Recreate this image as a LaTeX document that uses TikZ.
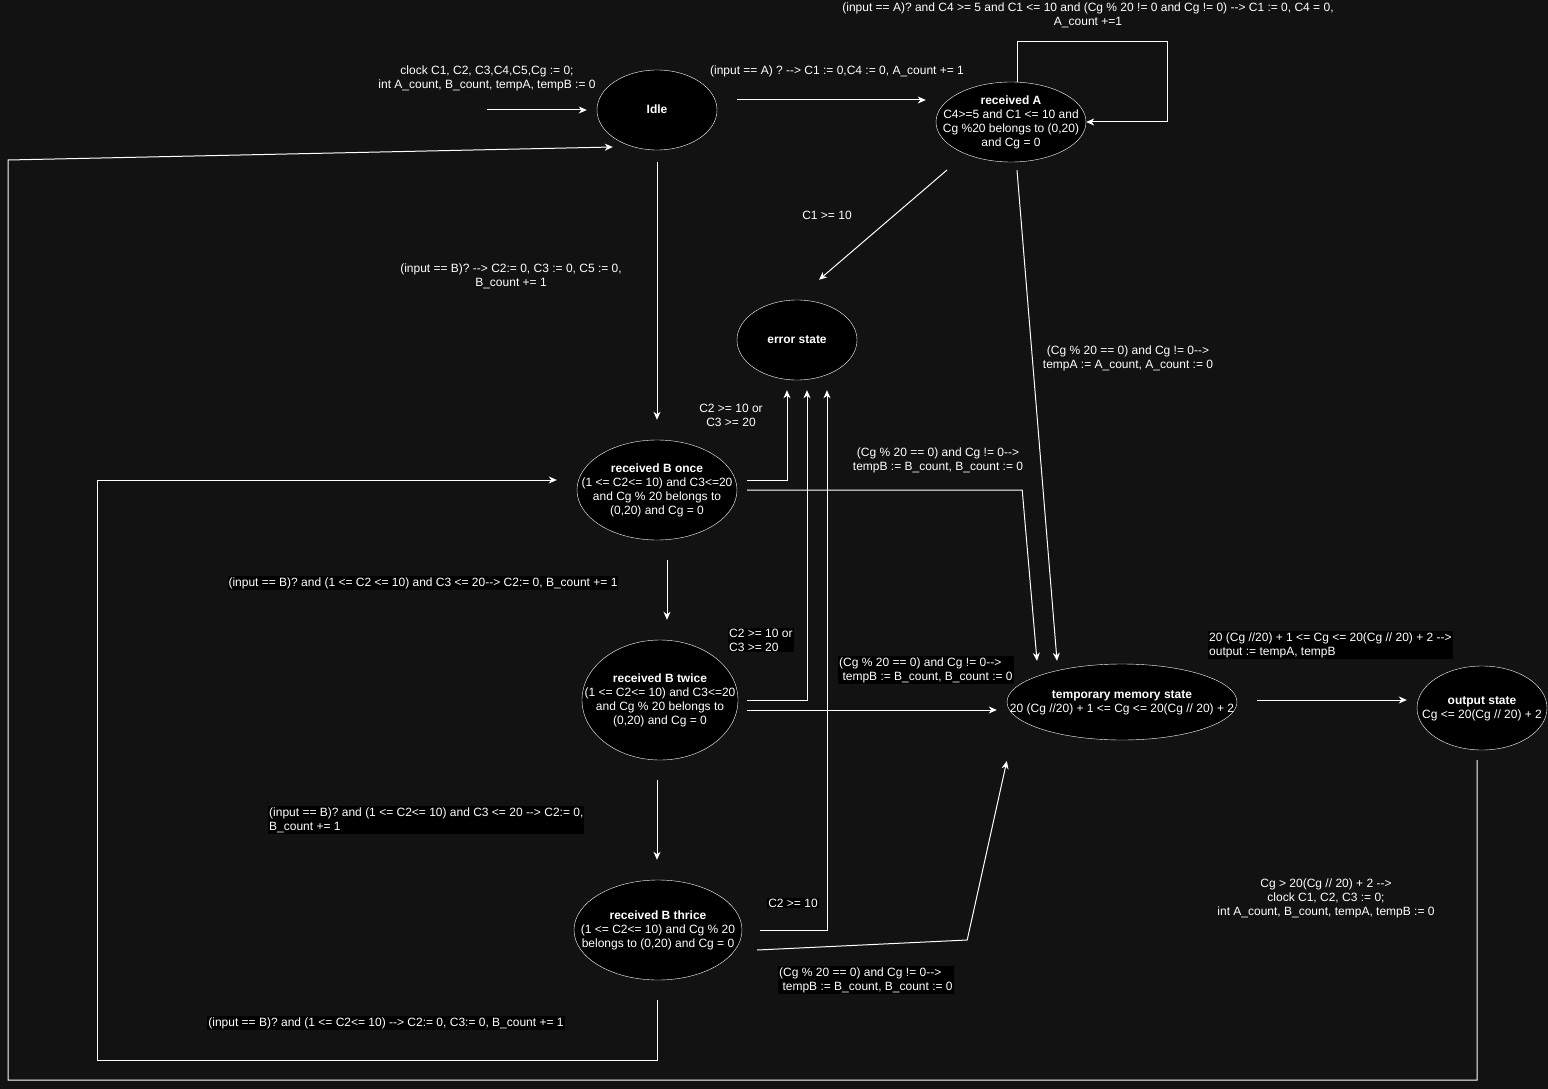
\documentclass[tikz,border=0pt]{standalone}
\usepackage{fontspec}
\setmainfont{Liberation Sans}[Ligatures=TeXOff]
\usetikzlibrary{shapes.geometric,arrows.meta,calc}
\definecolor{bgcol}{HTML}{121212}
% state text that does not widen the ellipse
\newcommand{\statetext}[1]{\smash{\makebox[0pt][c]{\raisebox{-4pt}{\begin{tabular}{@{}c@{}}#1\end{tabular}}}}}
\tikzset{
  state/.style={ellipse,draw=white,fill=black,text=white,inner sep=0pt,font=\fontsize{12}{14}\selectfont},
  edge/.style={draw=white,line width=1pt,-{Stealth[length=8pt,width=7pt,inset=2.5pt]}},
  lbl/.style={text=white,align=center,inner sep=1pt,font=\fontsize{12}{14}\selectfont},
  lblbox/.style={lbl,fill=black},
}
\begin{document}
\begin{tikzpicture}[x=1pt,y=-1pt]
\fill[bgcol] (0,0) rectangle (1548,1089);
\useasboundingbox (0,0) rectangle (1548,1089);
% states
\node[state,minimum width=120pt,minimum height=80pt] (idle) at (657,110) {\statetext{\textbf{Idle}}};
\node[state,minimum width=150pt,minimum height=80pt] (recA) at (1011,122) {\statetext{\textbf{received A}\\C4>=5 and C1 <= 10 and\\Cg \%20 belongs to (0,20)\\and Cg = 0}};
\node[state,minimum width=120pt,minimum height=80pt] (err) at (797,340) {\statetext{\textbf{error state}}};
\node[state,minimum width=160pt,minimum height=100pt] (bOnce) at (657,490) {\statetext{\textbf{received B once}\\(1 <= C2<= 10) and C3<=20\\and Cg \% 20 belongs to\\(0,20) and Cg = 0}};
\node[state,minimum width=156pt,minimum height=120pt] (bTwice) at (660,700) {\statetext{\textbf{received B twice}\\(1 <= C2<= 10) and C3<=20\\and Cg \% 20 belongs to\\(0,20) and Cg = 0}};
\node[state,minimum width=168pt,minimum height=100pt] (bThrice) at (658,930) {\statetext{\textbf{received B thrice}\\(1 <= C2<= 10) and Cg \% 20\\belongs to (0,20) and Cg = 0}};
\node[state,minimum width=230pt,minimum height=76pt] (temp) at (1122,702) {\statetext{\textbf{temporary memory state}\\20 (Cg //20) + 1 <= Cg <= 20(Cg // 20) + 2}};
\node[state,minimum width=130pt,minimum height=84pt] (out) at (1482,708) {\statetext{\textbf{output state}\\Cg <= 20(Cg // 20) + 2}};

% start arrow
\coordinate (start) at (487,110);
\draw[edge] (start) -- ([xshift=-10pt]idle.west);
\node[lbl] (initLbl) at (487,78) {clock C1, C2, C3,C4,C5,Cg := 0;\\int A\_count, B\_count, tempA, tempB := 0};

% idle -> received A
\draw[edge,shorten <=20pt,shorten >=10pt] ([yshift=10pt]idle.east) -- ([yshift=10pt]idle.east -| recA.west);
\node[lbl] (idleALbl) at (837,71) {(input == A) ? --> C1 := 0,C4 := 0, A\_count += 1};

% self loop on received A
\draw[edge] ([xshift=6pt]recA.north) -- ++(0,-40) -- ++(150,0) |- (recA.east);
\node[lbl] (loopALbl) at (1088,15) {(input == A)? and C4 >= 5 and C1 <= 10 and (Cg \% 20 != 0 and Cg != 0) --> C1 := 0, C4 = 0,\\A\_count +=1};

% received A -> error, received A -> temp
\draw[edge] ($(recA.center)+(-64,48)$) -- ($(err.north)+(22,-20)$);
\node[lbl] (errALbl) at (827,215) {C1 >= 10};
\draw[edge] ($(recA.south)+(6,8)$) -- ($(temp.north)+(-65,-3)$);
\node[lbl] (tempALbl) at (1128,358) {(Cg \% 20 == 0) and Cg != 0-->\\tempA := A\_count, A\_count := 0};

% idle -> received B once
\draw[edge,shorten <=12pt,shorten >=20pt] (idle.south) -- (bOnce.north);
\node[lbl] (idleBLbl) at (511,276) {(input == B)? --> C2:= 0, C3 := 0, C5 := 0,\\B\_count += 1};

% B states -> error
\foreach \src/\dx/\dy/\ex in {bOnce/10/-10/-10, bTwice/9/0/10, bThrice/18/0/30}
\draw[edge] ($(\src.east)+(\dx,\dy)$) -| ($(err.south)+(\ex,10)$);
\node[lbl] (errBoLbl) at (731,415) {C2 >= 10 or\\C3 >= 20};
\node[lblbox,anchor=west,align=left] (errBtLbl) at (728,640) {C2 >= 10 or\\C3 >= 20};
\node[lblbox] (errBthLbl) at (793,903) {C2 >= 10};

% B states -> temporary memory
\draw[edge] ($(bOnce.east)+(10,0)$) -- ++(275,0) -- ($(temp.north)+(-85,-3)$);
\node[lbl] (tempBoLbl) at (938,460) {(Cg \% 20 == 0) and Cg != 0-->\\tempB := B\_count, B\_count := 0};
\draw[edge,shorten <=9pt,shorten >=10pt] ([yshift=-10pt]bTwice.east) -- ([yshift=-10pt]bTwice.east -| temp.west);
\node[lblbox,anchor=west,align=left] (tempBtLbl) at (838,670) {(Cg \% 20 == 0) and Cg != 0-->\\\ tempB := B\_count, B\_count := 0};
\draw[edge] ($(bThrice.east)+(15,20)$) -- ++(210,-10) -- ($(temp.west)+(0,59)$);
\node[lblbox,anchor=west,align=left] (tempBthLbl) at (778,980) {(Cg \% 20 == 0) and Cg != 0-->\\\ tempB := B\_count, B\_count := 0};

% B once -> twice -> thrice -> once
\draw[edge] ($(bOnce.south)+(10,20)$) -- ($(bTwice.north)+(7,-20)$);
\node[lblbox] (bOnceLbl) at (423,583) {(input == B)? and (1 <= C2 <= 10) and C3 <= 20--> C2:= 0, B\_count += 1};
\draw[edge] ($(bTwice.south)+(-3,20)$) -- ($(bThrice.north)+(-1,-20)$);
\node[lblbox,anchor=west,align=left] (bTwiceLbl) at (268,820) {(input == B)? and (1 <= C2<= 10) and C3 <= 20 --> C2:= 0,\\B\_count += 1};
\draw[edge] ($(bThrice.south)+(-1,20)$) -- ++(0,60) -- ++(-560,0) |- ($(bOnce.west)+(-20,-10)$);
\node[lblbox] (bThriceLbl) at (386,1023) {(input == B)? and (1 <= C2<= 10) --> C2:= 0, C3:= 0, B\_count += 1};

% temporary memory -> output -> idle
\draw[edge,shorten <=20pt,shorten >=10pt] ([yshift=2pt]temp.east) -- ([yshift=2pt]temp.east -| out.west);
\node[lblbox,anchor=west,align=left] (outLbl) at (1208,645) {20 (Cg //20) + 1 <= Cg <= 20(Cg // 20) + 2 -->\\output := tempA, tempB};
\coordinate (loopBL) at (8,1080);
\coordinate (loopTL) at (8,160);
\draw[edge] ($(out.south)+(-5,10)$) |- (loopBL) -- (loopTL) -- ($(idle.west)+(16,37)$);
\node[lbl] (resetLbl) at (1326,898) {Cg > 20(Cg // 20) + 2 -->\\clock C1, C2, C3 := 0;\\int A\_count, B\_count, tempA, tempB := 0};
\end{tikzpicture}
\end{document}
